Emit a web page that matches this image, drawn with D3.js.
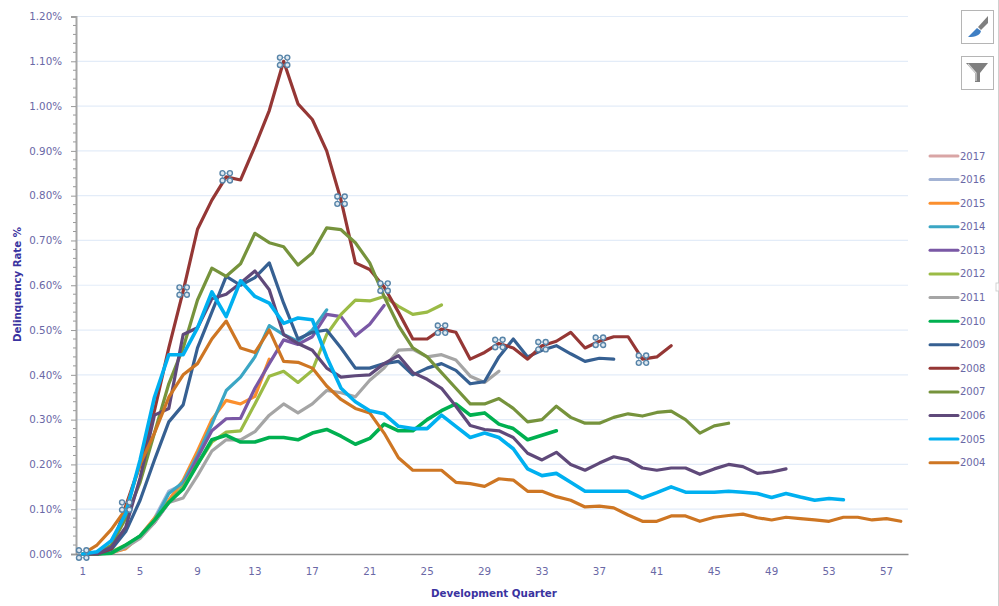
<!DOCTYPE html>
<html>
<head>
<meta charset="utf-8">
<script src="https://cdn.jsdelivr.net/npm/d3@7"></script>
<style>
html, body { margin: 0; padding: 0; background: #fff; overflow: hidden; }
text { font-family: "DejaVu Sans", sans-serif; }
</style>
</head>
<body>
<div id="chart"></div>
<script>
var quarters = d3.range(1, 59);
var xTickValues = [1, 5, 9, 13, 17, 21, 25, 29, 33, 37, 41, 45, 49, 53, 57];
var yTickValues = [0, 0.1, 0.2, 0.3, 0.4, 0.5, 0.6, 0.7, 0.8, 0.9, 1.0, 1.1, 1.2];
var years = [2017, 2016, 2015, 2014, 2013, 2012, 2011, 2010, 2009, 2008, 2007, 2006, 2005, 2004];
var handleQuarters = [1, 4, 8, 11, 15, 19, 22, 26, 30, 33, 37, 40];

var y2017 = [0, 0, 0.003];
var y2016 = [0, 0, 0.004, 0.012, 0.04, 0.08, 0.14, 0.155, 0.21];
var y2015 = [0, 0, 0.003, 0.012, 0.04, 0.08, 0.12, 0.165, 0.23, 0.30, 0.343, 0.335, 0.352, 0.435];
var y2014 = [0, 0, 0.004, 0.015, 0.04, 0.075, 0.135, 0.16, 0.22, 0.29, 0.365, 0.395, 0.44, 0.51, 0.49, 0.475, 0.50, 0.545];
var y2013 = [0, 0, 0.004, 0.018, 0.04, 0.07, 0.115, 0.15, 0.215, 0.275, 0.302, 0.303, 0.37, 0.425, 0.478, 0.468, 0.485, 0.535, 0.53, 0.487, 0.513, 0.555];
var y2012 = [0, 0, 0.005, 0.02, 0.04, 0.075, 0.115, 0.15, 0.20, 0.25, 0.272, 0.275, 0.335, 0.397, 0.408, 0.383, 0.41, 0.49, 0.535, 0.567, 0.565, 0.575, 0.553, 0.535, 0.54, 0.556];
var y2011 = [0, 0, 0.002, 0.015, 0.035, 0.07, 0.115, 0.125, 0.175, 0.23, 0.255, 0.255, 0.273, 0.31, 0.335, 0.315, 0.335, 0.365, 0.36, 0.351, 0.388, 0.415, 0.455, 0.457, 0.44, 0.445, 0.433, 0.397, 0.383, 0.408];
var y2010 = [0, 0, 0.002, 0.02, 0.04, 0.075, 0.115, 0.145, 0.20, 0.255, 0.265, 0.25, 0.25, 0.26, 0.26, 0.255, 0.27, 0.278, 0.263, 0.245, 0.258, 0.29, 0.275, 0.275, 0.30, 0.32, 0.335, 0.31, 0.315, 0.29, 0.28, 0.255, 0.265, 0.275];
var y2009 = [0, 0, 0.01, 0.05, 0.12, 0.21, 0.295, 0.333, 0.46, 0.54, 0.62, 0.60, 0.617, 0.65, 0.56, 0.48, 0.495, 0.50, 0.46, 0.415, 0.415, 0.425, 0.43, 0.40, 0.415, 0.425, 0.41, 0.38, 0.385, 0.44, 0.48, 0.44, 0.455, 0.465, 0.447, 0.43, 0.437, 0.435];
var y2008 = [0, 0, 0.012, 0.107, 0.20, 0.32, 0.46, 0.587, 0.725, 0.79, 0.842, 0.835, 0.91, 0.99, 1.10, 1.005, 0.97, 0.90, 0.79, 0.65, 0.635, 0.596, 0.54, 0.48, 0.48, 0.502, 0.495, 0.435, 0.45, 0.47, 0.46, 0.435, 0.465, 0.475, 0.495, 0.46, 0.475, 0.485, 0.485, 0.435, 0.44, 0.465];
var y2007 = [0, 0, 0.02, 0.08, 0.16, 0.27, 0.38, 0.46, 0.567, 0.638, 0.62, 0.648, 0.716, 0.695, 0.686, 0.645, 0.672, 0.728, 0.724, 0.695, 0.65, 0.575, 0.51, 0.46, 0.44, 0.405, 0.37, 0.335, 0.335, 0.347, 0.325, 0.295, 0.30, 0.33, 0.305, 0.292, 0.292, 0.305, 0.313, 0.308, 0.316, 0.319, 0.30, 0.27, 0.286, 0.292];
var y2006 = [0, 0, 0.015, 0.06, 0.17, 0.31, 0.325, 0.49, 0.505, 0.57, 0.58, 0.605, 0.632, 0.59, 0.49, 0.47, 0.455, 0.415, 0.395, 0.398, 0.40, 0.425, 0.443, 0.405, 0.39, 0.37, 0.33, 0.287, 0.278, 0.275, 0.26, 0.225, 0.21, 0.227, 0.20, 0.187, 0.203, 0.217, 0.21, 0.192, 0.187, 0.192, 0.192, 0.178, 0.19, 0.20, 0.195, 0.18, 0.183, 0.19];
var y2005 = [0, 0.005, 0.03, 0.09, 0.21, 0.35, 0.445, 0.445, 0.505, 0.585, 0.53, 0.61, 0.575, 0.56, 0.515, 0.527, 0.523, 0.44, 0.37, 0.34, 0.32, 0.313, 0.285, 0.28, 0.28, 0.31, 0.285, 0.26, 0.27, 0.26, 0.235, 0.19, 0.175, 0.18, 0.16, 0.14, 0.14, 0.14, 0.14, 0.125, 0.137, 0.15, 0.138, 0.138, 0.138, 0.14, 0.138, 0.135, 0.126, 0.135, 0.127, 0.12, 0.124, 0.121];
var y2004 = [0, 0.02, 0.055, 0.10, 0.20, 0.27, 0.35, 0.40, 0.425, 0.48, 0.52, 0.46, 0.45, 0.50, 0.43, 0.428, 0.415, 0.375, 0.345, 0.325, 0.315, 0.27, 0.215, 0.187, 0.187, 0.187, 0.16, 0.157, 0.151, 0.168, 0.165, 0.14, 0.14, 0.128, 0.12, 0.105, 0.107, 0.103, 0.087, 0.073, 0.073, 0.085, 0.085, 0.073, 0.082, 0.086, 0.089, 0.081, 0.076, 0.082, 0.079, 0.076, 0.073, 0.082, 0.082, 0.076, 0.079, 0.073];

var seriesValues = [y2017, y2016, y2015, y2014, y2013, y2012, y2011, y2010, y2009, y2008, y2007, y2006, y2005, y2004];
var colors = ["#d9a5a5", "#a3b3d4", "#fb8f2e", "#3ba6c4", "#7a58a5", "#9bbb46", "#a5a5a5", "#00b050", "#366092", "#953735", "#76933c", "#5f497a", "#00b0f0", "#ce7623"];

var svg = d3.select("#chart").append("svg")
	.attr("width", 999)
	.attr("height", 606);

var x = d3.scaleBand().domain(quarters).range([75.5, 908]);
var y = d3.scaleLinear().domain([0, 1.2]).range([554, 16.5]);

var labelColor = "#6a68a6";
var titleColor = "#3a33a0";

// gridlines
svg.append("g").selectAll("line").data(yTickValues.slice(1))
	.enter().append("line")
		.attr("x1", 76).attr("x2", 908)
		.attr("y1", function(d){ return y(d); })
		.attr("y2", function(d){ return y(d); })
		.attr("stroke", "#e3ecf8")
		.attr("stroke-width", 1.2);

var yAxis = svg.append("g")
	.attr("transform", "translate(76,0)")
	.call(d3.axisLeft(y).tickValues(yTickValues).tickFormat(function(d){ return d.toFixed(2) + "%"; }).tickSize(5).tickPadding(9));
yAxis.selectAll(".tick line").attr("stroke", "#999");
yAxis.select(".domain").attr("stroke", "#a6a6a6").attr("stroke-width", 2);
yAxis.selectAll("text").attr("fill", labelColor).attr("font-size", 10.3).style("font-family", "'DejaVu Sans', sans-serif");

// minor ticks every 0.02
var minorTicks = d3.range(0, 61).map(function(d){ return d * 0.02; }).filter(function(d){ return Math.round(d * 50) % 5 !== 0; });
svg.append("g").selectAll("line").data(minorTicks)
	.enter().append("line")
		.attr("x1", 73).attr("x2", 76)
		.attr("y1", function(d){ return y(d); })
		.attr("y2", function(d){ return y(d); })
		.attr("stroke", "#999");

var xAxis = svg.append("g")
	.attr("transform", "translate(0,554)")
	.call(d3.axisBottom(x).tickValues(xTickValues).tickSize(0).tickPadding(14));
xAxis.select(".domain").attr("stroke", "#8c8c8c").attr("stroke-width", 1.3);
xAxis.selectAll("text").attr("fill", labelColor).attr("font-size", 10.3).style("font-family", "'DejaVu Sans', sans-serif");

var line = d3.line()
	.x(function(d,i){ return x(quarters[i]) + x.bandwidth() / 2; })
	.y(function(d){ return y(d); });

// 2005 sits over the others in the original
var drawOrder = d3.range(years.length).filter(function(i){ return years[i] !== 2005; }).concat(years.indexOf(2005));
svg.append("g").selectAll("path").data(drawOrder)
	.enter().append("path")
		.attr("d", function(i){ return line(seriesValues[i]); })
		.attr("fill", "none")
		.attr("stroke", function(i){ return colors[i]; })
		.attr("stroke-width", function(i){ return (years[i] === 2005 || years[i] === 2010) ? 3.6 : 3.2; })
		.attr("stroke-linejoin", "round")
		.attr("stroke-linecap", "round");

// selection handles on the 2008 series
var handles = svg.append("g").selectAll("g").data(handleQuarters)
	.enter().append("g")
		.attr("transform", function(d){
			return "translate(" + (x(d) + x.bandwidth() / 2) + "," + y(y2008[d - 1]) + ")";
		});
handles.append("rect")
	.attr("x", -3.7).attr("y", -3.7).attr("width", 7.4).attr("height", 7.4)
	.attr("fill", "none").attr("stroke", "#7fa3bf").attr("stroke-width", 0.8);
[[-3.7, -3.7], [3.7, -3.7], [-3.7, 3.7], [3.7, 3.7]].forEach(function(o){
	handles.append("circle")
		.attr("cx", o[0]).attr("cy", o[1]).attr("r", 2.5)
		.attr("fill", "#dfe9f1")
		.attr("stroke", "#5784a8")
		.attr("stroke-width", 1.4);
});

// axis titles
svg.append("text")
	.attr("transform", "translate(21,284.5) rotate(-90)")
	.attr("text-anchor", "middle")
	.attr("font-size", 10.2)
	.attr("font-weight", "bold")
	.attr("fill", titleColor)
	.text("Delinquency Rate %");

svg.append("text")
	.attr("x", 494).attr("y", 597)
	.attr("text-anchor", "middle")
	.attr("font-size", 10.3)
	.attr("font-weight", "bold")
	.attr("fill", titleColor)
	.text("Development Quarter");

// legend
var legendY = d3.scaleLinear().domain([0, years.length - 1]).range([156, 462.7]);
var legend = svg.append("g").selectAll("g").data(years)
	.enter().append("g")
		.attr("transform", function(d,i){ return "translate(930," + legendY(i) + ")"; });
legend.append("line")
	.attr("x1", 0).attr("x2", 28)
	.attr("stroke", function(d,i){ return colors[i]; })
	.attr("stroke-width", 3)
	.attr("stroke-linecap", "round");
legend.append("text")
	.attr("x", 30).attr("dy", "0.35em")
	.attr("font-size", 10)
	.attr("fill", labelColor)
	.text(function(d){ return d; });

// chart filter buttons
var buttons = svg.append("g");
[[961, 10], [961, 56]].forEach(function(b){
	buttons.append("rect")
		.attr("x", b[0] + 0.5).attr("y", b[1] + 0.5)
		.attr("width", 32).attr("height", 33)
		.attr("fill", "#fff").attr("stroke", "#b5b5b5").attr("stroke-width", 1);
});
buttons.append("path")
	.attr("d", "M974 31 L968 37 C976 37 980 35 981 31 L977 28 Z")
	.attr("fill", "#3f7fc4");
buttons.append("path")
	.attr("d", "M978 27 L988 16 L988 23 L981 30 Z")
	.attr("fill", "#7f7f7f");
buttons.append("path")
	.attr("d", "M966 63 L988 63 L980 73 L980 82 L975 82 L975 73 Z")
	.attr("fill", "#7f7f7f");
buttons.append("path")
	.attr("d", "M968 64 L976 73 L976 81")
	.attr("fill", "none").attr("stroke", "#d9d9d9").attr("stroke-width", 1.2);

// edge of the chart area
svg.append("line")
	.attr("x1", 998.5).attr("x2", 998.5).attr("y1", 0).attr("y2", 606)
	.attr("stroke", "#d0d0d0");
svg.append("rect")
	.attr("x", 996).attr("y", 283).attr("width", 3).attr("height", 8)
	.attr("fill", "#fff").attr("stroke", "#c8c8c8").attr("stroke-width", 0.8);
</script>
</body>
</html>
